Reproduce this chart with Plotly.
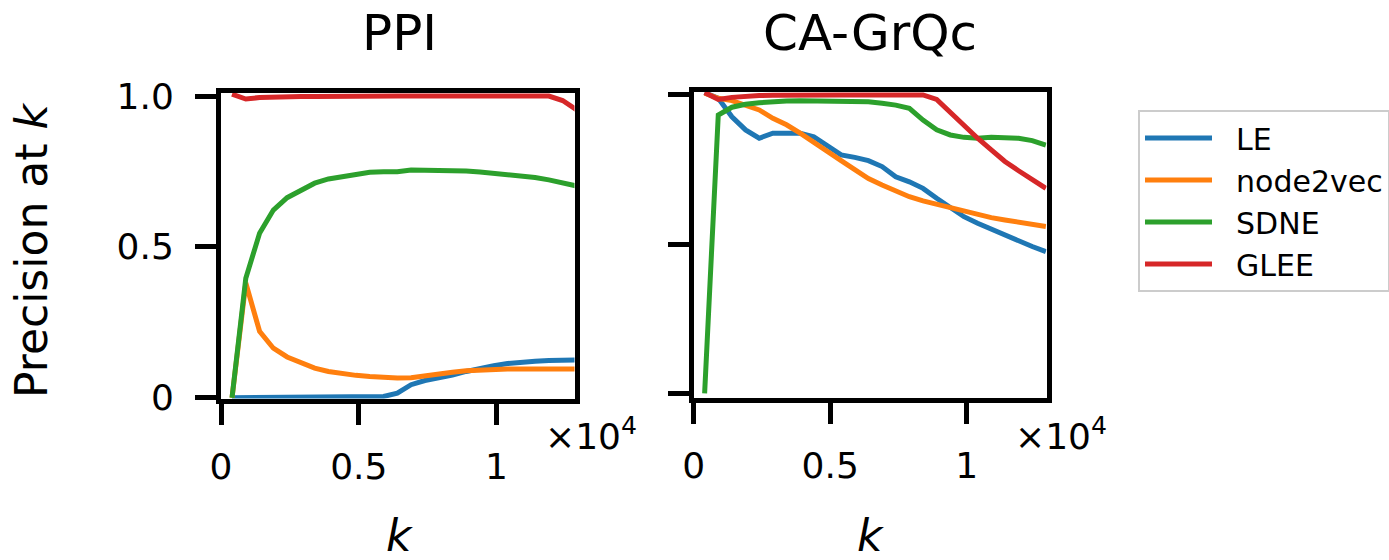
import plotly.graph_objects as go

W, H = 1389, 560

# ---- data ----
k = [400, 900, 1400, 1900, 2400, 2900, 3400, 3900, 4400, 4900, 5400, 5900, 6400,
     6900, 7400, 7900, 8400, 8900, 9400, 9900, 10400, 10900, 11400, 11900, 12400, 12900]

methods = ["LE", "node2vec", "SDNE", "GLEE"]
colors = ["#1f77b4", "#ff7f0e", "#2ca02c", "#d62728"]

ppi_le = [0, 0, 0, 0, 0, 0, 0, 0, 0, 0, 0, 0.004, 0.015, 0.043, 0.057, 0.065, 0.075,
          0.087, 0.098, 0.106, 0.113, 0.118, 0.121, 0.123, 0.125, 0.125]
ppi_node2vec = [0, 0.38, 0.22, 0.164, 0.135, 0.115, 0.098, 0.087, 0.079, 0.074, 0.07,
                0.066, 0.065, 0.066, 0.073, 0.079, 0.084, 0.089, 0.092, 0.094, 0.095,
                0.095, 0.095, 0.095, 0.095, 0.095]
ppi_sdne = [0, 0.396, 0.545, 0.622, 0.663, 0.689, 0.711, 0.725, 0.733, 0.741, 0.747,
            0.749, 0.749, 0.755, 0.755, 0.753, 0.753, 0.751, 0.748, 0.744, 0.74, 0.735,
            0.73, 0.722, 0.713, 0.702]
ppi_glee = [1.006, 0.99, 0.995, 0.997, 0.997, 0.998, 0.998, 0.999, 0.999, 1.0, 1.0, 1.0,
            1.0, 1.0, 1.0, 1.0, 1.0, 1.0, 1.0, 1.0, 1.0, 1.0, 1.0, 1.0, 0.985, 0.955]

ca_le = [1.008, 0.989, 0.927, 0.883, 0.855, 0.872, 0.872, 0.872, 0.86, 0.827, 0.799,
         0.791, 0.78, 0.76, 0.726, 0.709, 0.687, 0.654, 0.623, 0.592, 0.57, 0.55, 0.53,
         0.51, 0.492, 0.475]
ca_node2vec = [1.006, 0.989, 0.981, 0.966, 0.95, 0.922, 0.9, 0.872, 0.84, 0.81, 0.78,
               0.75, 0.72, 0.698, 0.678, 0.659, 0.645, 0.634, 0.62, 0.609, 0.598, 0.589,
               0.581, 0.573, 0.566, 0.559]
ca_sdne = [0, 0.933, 0.959, 0.969, 0.974, 0.978, 0.98, 0.981, 0.981, 0.981, 0.981, 0.98,
           0.977, 0.972, 0.966, 0.955, 0.916, 0.883, 0.866, 0.858, 0.855, 0.858, 0.858,
           0.855, 0.847, 0.832]
ca_glee = [1.008, 0.985, 0.992, 0.996, 0.998, 0.999, 1.0, 1.0, 1.0, 1.0, 1.0, 1.0, 1.0,
           1.0, 1.0, 1.0, 1.0, 0.985, 0.94, 0.9, 0.855, 0.816, 0.777, 0.746, 0.717, 0.687]

titles = ["PPI", "CA-GrQc"]
x_tickvals = [0, 5000, 10000]
x_ticktext = ["0", "0.5", "1"]
y_tickvals = [0, 0.5, 1.0]
y_ticktext = ["0", "0.5", "1.0"]

ppi = [ppi_le, ppi_node2vec, ppi_sdne, ppi_glee]
ca = [ca_le, ca_node2vec, ca_sdne, ca_glee]

FONT = "DejaVu Sans"
GAP = "\u00a0\u00a0"

fig = go.Figure()
for i, (m, c) in enumerate(zip(methods, colors)):
    fig.add_trace(go.Scatter(x=k, y=ppi[i], mode="lines", name=GAP + m,
                             line=dict(color=c, width=5), xaxis="x", yaxis="y"))
for i, (m, c) in enumerate(zip(methods, colors)):
    fig.add_trace(go.Scatter(x=k, y=ca[i], mode="lines", name=m, showlegend=False,
                             line=dict(color=c, width=5), xaxis="x2", yaxis="y2"))


def px_x(p):
    return p / W


def px_y(p):
    return 1 - p / H


axcommon = dict(showline=True, mirror=True, linecolor="black", linewidth=5,
                ticks="outside", ticklen=21, tickwidth=5, tickcolor="black",
                showgrid=False, zeroline=False, automargin=False,
                tickfont=dict(family=FONT, size=36, color="black"))

fig.update_layout(
    width=W, height=H,
    margin=dict(l=0, r=0, t=0, b=0, pad=0, autoexpand=False),
    paper_bgcolor="white", plot_bgcolor="white",
    font=dict(family=FONT, color="black"),
    xaxis=dict(domain=[px_x(221), px_x(574.5)], range=[0, 12831], anchor="y",
               tickvals=x_tickvals, ticktext=x_ticktext, ticklabelstandoff=11, **axcommon),
    yaxis=dict(domain=[px_y(398.5), px_y(92.5)], range=[-0.0027, 1.0116], anchor="x",
               tickvals=y_tickvals, ticktext=y_ticktext, ticklabelstandoff=14, **axcommon),
    xaxis2=dict(domain=[px_x(693.7), px_x(1046.5)], range=[0, 12923], anchor="y2",
                tickvals=x_tickvals, ticktext=x_ticktext, ticklabelstandoff=11, **axcommon),
    yaxis2=dict(domain=[px_y(397.5), px_y(91.5)], range=[-0.0141, 1.0117], anchor="x2",
                tickvals=y_tickvals, ticktext=y_ticktext, showticklabels=False, **axcommon),
    legend=dict(x=px_x(1138), y=px_y(110), xanchor="left", yanchor="top",
                font=dict(family=FONT, size=30, color="black"),
                bordercolor="#cccccc", borderwidth=2, bgcolor="white",
                itemwidth=67, tracegroupgap=0),
    showlegend=True,
)

ann = []
for t, cx in zip(titles, [399, 870]):
    ann.append(dict(text=t, x=px_x(cx), y=px_y(33), xref="paper", yref="paper",
                    xanchor="center", yanchor="middle", showarrow=False,
                    font=dict(family=FONT, size=50, color="black")))
for cx in [399, 870]:
    ann.append(dict(text="<i>k</i>", x=px_x(cx), y=px_y(535), xref="paper", yref="paper",
                    xanchor="center", yanchor="middle", showarrow=False,
                    font=dict(family=FONT, size=44, color="black")))
for lx in [543, 1013]:
    ann.append(dict(text="×10<sup>4</sup>", x=px_x(lx), y=px_y(434), xref="paper",
                    yref="paper", xanchor="left", yanchor="middle", showarrow=False,
                    font=dict(family=FONT, size=36, color="black")))
ann.append(dict(text="Precision at <i>k</i>", x=px_x(32), y=px_y(250), xref="paper",
                yref="paper", xanchor="center", yanchor="middle", showarrow=False,
                textangle=-90, font=dict(family=FONT, size=44, color="black")))
fig.update_layout(annotations=ann)

fig.write_html("out.html")
